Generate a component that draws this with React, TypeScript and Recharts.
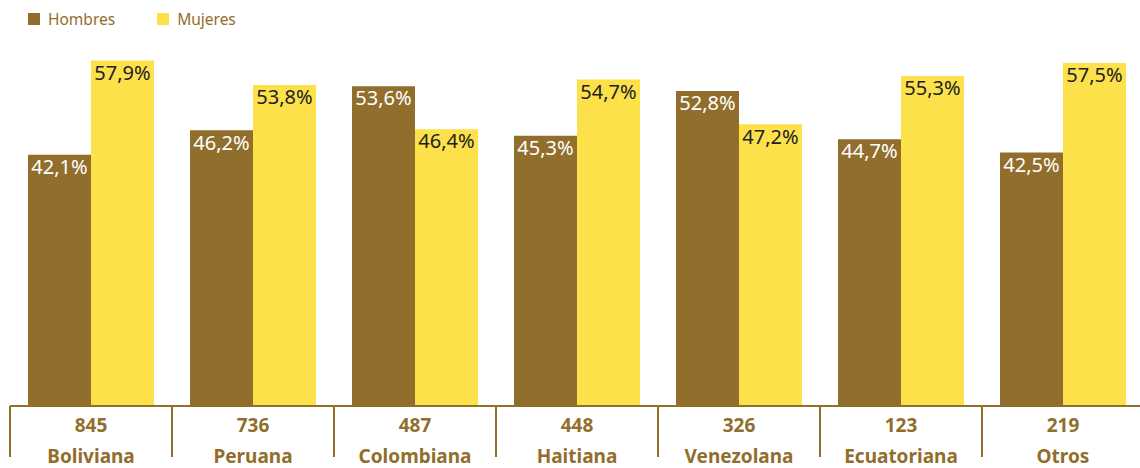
import React from "react";
import { BarChart, Bar, XAxis, YAxis, LabelList } from "recharts";

const categories = ["Boliviana", "Peruana", "Colombiana", "Haitiana", "Venezolana", "Ecuatoriana", "Otros"];
const totals = [845, 736, 487, 448, 326, 123, 219];
const hombres = [42.1, 46.2, 53.6, 45.3, 52.8, 44.7, 42.5];
const mujeres = [57.9, 53.8, 46.4, 54.7, 47.2, 55.3, 57.5];
const seriesNames = ["Hombres", "Mujeres"];

const BROWN = "#916E2C";
const YELLOW = "#FCE14B";
const FONT = "'Noto Sans', sans-serif";

const data = categories.map((c, i) => ({ name: c, total: totals[i], hombres: hombres[i], mujeres: mujeres[i] }));

const fmt = (v: number) => v.toFixed(1).replace(".", ",") + "%";

const Tick = (props: any) => {
  const { x, y, payload, index, width, visibleTicksCount } = props;
  const band = width / (visibleTicksCount || categories.length);
  const d = data[index] || data.find((r) => r.name === payload.value);
  const left = x - band / 2;
  return (
    <g>
      <line x1={left} x2={left} y1={y - 8} y2={y + 43} stroke={BROWN} strokeWidth={2} />
      <text x={x} y={y + 18} textAnchor="middle" fill={BROWN} fontFamily={FONT} fontWeight={700} fontSize={19}>
        {d ? d.total : ""}
      </text>
      <text x={x} y={y + 49} textAnchor="middle" fill={BROWN} fontFamily={FONT} fontWeight={700} fontSize={19}>
        {payload.value}
      </text>
    </g>
  );
};

const LegendBox = () => (
  <div style={{ position: "absolute", left: 28, top: 8, display: "flex", fontFamily: FONT, fontSize: 15.5, color: BROWN, zIndex: 2 }}>
    {seriesNames.map((label, i) => (
      <div key={label} style={{ display: "flex", alignItems: "center", marginRight: 42 }}>
        <span style={{ width: 12, height: 12, background: i === 0 ? BROWN : YELLOW, display: "inline-block", marginRight: 8 }} />
        <span>{label}</span>
      </div>
    ))}
  </div>
);

export default function App() {
  return (
    <div style={{ position: "fixed", left: 0, top: 0, width: 1140, height: 468, overflow: "hidden", background: "#fff" }}>
      <LegendBox />
      <BarChart
        width={1144}
        height={468}
        data={data}
        margin={{ top: 48, right: 0, bottom: 0, left: 10 }}
        barCategoryGap={18}
        barGap={0}
      >
        <XAxis
          dataKey="name"
          height={62}
          interval={0}
          tickLine={false}
          axisLine={{ stroke: BROWN, strokeWidth: 2 }}
          tick={<Tick />}
        />
        <YAxis hide domain={[0, 60]} />
        <Bar dataKey="hombres" fill={BROWN} isAnimationActive={false}>
          <LabelList dataKey="hombres" position="insideTop" formatter={fmt as any} fill="#ffffff" fontFamily={FONT} fontSize={20} />
        </Bar>
        <Bar dataKey="mujeres" fill={YELLOW} isAnimationActive={false}>
          <LabelList dataKey="mujeres" position="insideTop" formatter={fmt as any} fill="#222222" fontFamily={FONT} fontSize={20} />
        </Bar>
      </BarChart>
    </div>
  );
}
